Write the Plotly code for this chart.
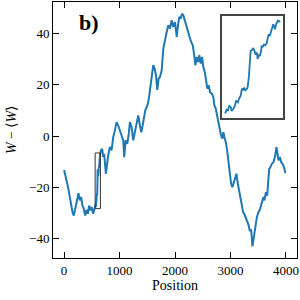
import plotly.graph_objects as go

# ---- data ----
position = [
    0, 43, 72, 103, 134, 152, 175, 199, 224, 242, 260, 284, 307, 332, 356, 380,
    405, 428, 452, 476, 500, 524, 549,
    560, 563, 565, 567, 570, 571, 574, 577, 579, 582, 584, 587, 589, 591, 593,
    595, 598, 599, 601, 603, 604, 607, 608, 611, 612, 615, 616, 618, 620, 622,
    623, 625, 627, 629, 632, 633, 635, 637, 639, 641, 643, 644, 646, 648, 649,
    651, 653, 655,
    663, 687, 705, 723, 753, 795, 826, 856, 886, 916, 946, 976, 1006, 1036,
    1067, 1084, 1109, 1139, 1163, 1187, 1217, 1247, 1277, 1308, 1337, 1368,
    1392, 1416, 1440, 1464, 1488, 1512, 1536, 1561, 1584, 1608, 1633, 1657,
    1680, 1705, 1729, 1760, 1789, 1819, 1850, 1879, 1910, 1940, 1969, 2000,
    2031, 2054, 2078, 2103, 2126, 2150, 2175, 2199, 2222, 2247, 2271, 2294,
    2320, 2343, 2367, 2392, 2416, 2439, 2464, 2488, 2511, 2537, 2560, 2584,
    2609, 2632, 2663, 2692, 2710, 2735, 2759, 2782, 2807, 2831, 2855, 2873,
    2891, 2916, 2940, 2963, 2988, 3012, 3035, 3060, 3084, 3108, 3133, 3156,
    3180, 3206, 3229, 3252, 3277, 3301, 3324, 3350, 3373, 3397, 3422, 3445,
    3476, 3505, 3536, 3566, 3595, 3613, 3639, 3662, 3686, 3698, 3722, 3747,
    3776, 3807, 3830, 3848, 3866, 3892, 3915, 3939, 3964, 3987, 4000,
]
w_dev = [
    -13.2, -16.7, -19.9, -23.8, -27.7, -29.7, -31.0, -28.4, -26.4, -25.1, -22.3,
    -25.1, -23.8, -27.1, -28.4, -31.0, -28.8, -30.3, -27.1, -29.0, -27.7, -30.3,
    -28.4,
    -28.3, -27.3, -27.7, -26.5, -26.9, -27.7, -27.3, -26.5, -25.3, -25.7, -24.9,
    -24.1, -22.5, -22.9, -22.3, -22.9, -22.5, -22.1, -19.7, -16.5, -13.7, -13.4,
    -13.0, -13.7, -14.5, -14.1, -15.6, -14.5, -14.9, -13.7, -12.6, -12.7, -12.2,
    -12.4, -11.8, -11.0, -9.8, -10.2, -9.4, -8.2, -7.4, -7.8, -8.6, -7.4, -7.0,
    -6.6, -6.8, -6.6,
    -5.6, -5.0, -8.2, -6.9, -14.7, -7.6, -4.3, -5.6, -0.4, 2.2, 5.4, 4.1, 2.2,
    0.9, -1.7, -8.2, -1.7, -3.0, 0.2, 5.4, 3.5, -1.7, 1.5, 4.1, 8.0, 4.1, 1.5,
    4.1, 7.4, 10.0, 11.3, 12.6, 15.8, 19.7, 23.6, 27.6, 26.3, 23.6, 18.0, 22.4,
    23.0, 25.6, 34.0, 36.6, 40.5, 43.2, 41.9, 45.1, 42.5, 44.4, 38.6, 43.2,
    46.4, 45.8, 47.7, 47.1, 45.1, 43.8, 41.2, 39.9, 38.0, 36.6, 35.4, 32.1,
    27.6, 30.8, 28.8, 31.5, 28.2, 30.8, 26.9, 24.9, 21.0, 18.5, 19.7, 17.1,
    16.5, 15.2, 11.9, 10.7, 8.0, 5.4, 3.5, 0.2, -1.0, 1.5, -0.4, -2.4, -5.6,
    -9.5, -14.7, -18.6, -19.9, -18.0, -16.0, -14.7, -18.6, -21.2, -23.8, -27.7,
    -29.7, -30.5, -32.0, -33.5, -34.5, -37.0, -36.5, -43.0, -39.5, -35.6, -31.6,
    -29.7, -28.4, -25.8, -23.8, -25.1, -21.9, -23.2, -17.3, -12.8, -12.1, -10.8,
    -10.2, -7.6, -4.3, -6.9, -9.5, -8.2, -10.2, -10.8, -12.1, -14.1, -14.0,
]
zoom_window = [560, 655]          # positions shown in the inset
x_ticks = [0, 1000, 2000, 3000, 4000]
y_ticks = [-40, -20, 0, 20, 40]
y_tick_text = ["\u221240", "\u221220", "0", "20", "40"]

# ---- derived ----
ins_x = [p for p in position if zoom_window[0] <= p <= zoom_window[1]]
ins_y = [w for p, w in zip(position, w_dev) if zoom_window[0] <= p <= zoom_window[1]]

BLUE = "#1f77b4"
FONT = "Liberation Serif"

fig = go.Figure()
fig.add_trace(go.Scatter(x=position, y=w_dev, mode="lines",
                         line=dict(color=BLUE, width=2), showlegend=False))
fig.add_trace(go.Scatter(x=ins_x, y=ins_y, mode="lines", xaxis="x2", yaxis="y2",
                         line=dict(color=BLUE, width=1.8), showlegend=False))

# rectangle marking zoomed region
fig.add_shape(type="rect", xref="x", yref="y",
              x0=min(ins_x), x1=max(ins_x), y0=min(ins_y), y1=max(ins_y),
              line=dict(color="#333333", width=1))

xr = max(position) - min(position)
yr = max(w_dev) - min(w_dev)
ixr = max(ins_x) - min(ins_x)
iyr = max(ins_y) - min(ins_y)

axis_common = dict(showline=True, linecolor="black", linewidth=1, mirror="ticks",
                   ticks="inside", ticklen=6, tickwidth=1, tickcolor="black",
                   showgrid=False, zeroline=False, automargin=False,
                   tickfont=dict(family=FONT, size=13, color="black"))

fig.update_layout(
    width=300, height=300,
    margin=dict(l=53, r=3, t=2, b=42),
    paper_bgcolor="white", plot_bgcolor="white",
    xaxis=dict(range=[min(position) - 0.05 * xr, max(position) + 0.05 * xr],
               tickvals=x_ticks, domain=[0, 1],
               title=dict(text="Position", font=dict(family=FONT, size=14, color="black"),
                          standoff=3),
               **axis_common),
    yaxis=dict(range=[min(w_dev) - 0.05 * yr, max(w_dev) + 0.05 * yr],
               tickvals=y_ticks, ticktext=y_tick_text, domain=[0, 1],
               title=dict(text="<i>W</i> \u2212 \u27e8<i>W</i>\u27e9",
                          font=dict(family=FONT, size=14, color="black"), standoff=9),
               **axis_common),
    xaxis2=dict(domain=[0.694, 0.9425], anchor="y2",
                range=[min(ins_x) - 0.05 * ixr, max(ins_x) + 0.05 * ixr],
                showline=True, mirror=True, linecolor="#444444", linewidth=1.5,
                showticklabels=False, ticks="", showgrid=False, zeroline=False),
    yaxis2=dict(domain=[0.547, 0.945], anchor="x2",
                range=[min(ins_y) - 0.05 * iyr, max(ins_y) + 0.05 * iyr],
                showline=True, mirror=True, linecolor="#444444", linewidth=1.5,
                showticklabels=False, ticks="", showgrid=False, zeroline=False),
    annotations=[dict(text="<b>b)</b>", xref="paper", yref="paper",
                      x=0.1, y=0.975, xanchor="left", yanchor="top", showarrow=False,
                      font=dict(family=FONT, size=22, color="black"))],
)

fig.write_html("out.html", config={"displayModeBar": False},
               post_script="document.body.style.margin='0px';"
                           "document.body.style.padding='0px';")
